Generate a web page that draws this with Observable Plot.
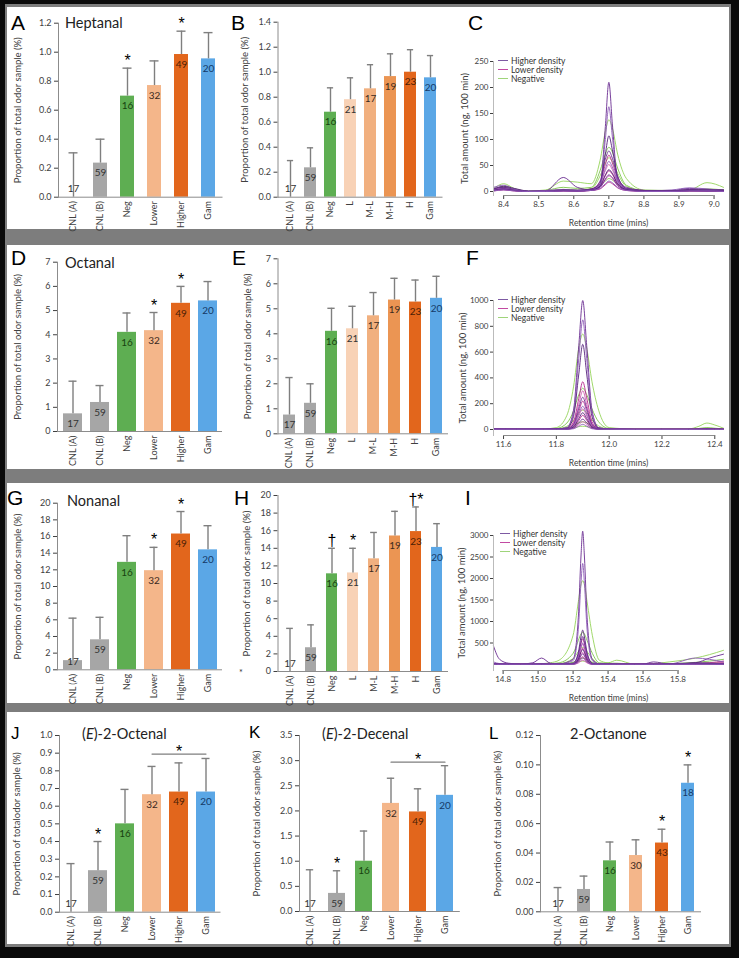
<!DOCTYPE html>
<html><head><meta charset="utf-8">
<script src="https://cdn.jsdelivr.net/npm/d3@7"></script>
<script src="https://cdn.jsdelivr.net/npm/@observablehq/plot@0.6"></script>
<style>
html,body{margin:0;padding:0;background:#000;}
#fig{position:relative;width:739px;height:958px;background:#0a0a0a;overflow:hidden;font-family:Lato,sans-serif;}
#gray{position:absolute;left:5px;top:4px;width:726px;height:943px;background:#7d7d7d;}
.row{position:absolute;left:2px;width:722px;background:#fff;}
.panel{position:absolute;}
.panel svg{overflow:visible;display:block;}
.letter{position:absolute;font-family:"Liberation Sans",Arial,sans-serif;line-height:1;color:#000;}
.title{position:absolute;font-family:Lato,sans-serif;font-size:14.5px;line-height:1;color:#222;white-space:nowrap;}
.legend{position:absolute;font-family:Lato,sans-serif;font-size:8.5px;color:#333;}
.legend div{display:flex;align-items:center;height:9px;white-space:nowrap;}
.legend .sw{display:inline-block;width:10px;height:1px;margin-right:3px;}
.stray{position:absolute;font-family:Lato,sans-serif;font-size:9px;line-height:1;color:#333;}
</style></head>
<body>
<div id="fig"><div id="gray">
<div class="row" style="top:3px;height:222px"></div>
<div class="row" style="top:241px;height:224px"></div>
<div class="row" style="top:479px;height:220px"></div>
<div class="row" style="top:708px;height:232px"></div>
</div></div>
<script>
// ---------------- DATA ----------------
const catsSix = ["CNL (A)", "CNL (B)", "Neg", "Lower", "Higher", "Gam"];
const catsEight = ["CNL (A)", "CNL (B)", "Neg", "L", "M-L", "M-H", "H", "Gam"];
const nSix = [17, 59, 16, 32, 49, 20];
const nEight = [17, 59, 16, 21, 17, 19, 23, 20];
const nOctanone = [17, 59, 16, 30, 43, 18];

const heptanalMean = [0, 0.235, 0.697, 0.77, 0.984, 0.954];
const heptanalUpper = [0.306, 0.40, 0.89, 0.94, 1.145, 1.135];
const heptanalSig = ["", "", "*", "", "*", ""];
const heptanal8Mean = [0, 0.235, 0.68, 0.78, 0.867, 0.965, 1.0, 0.955];
const heptanal8Upper = [0.293, 0.395, 0.875, 0.955, 1.06, 1.147, 1.18, 1.133];

const octanalMean = [0.73, 1.2, 4.1, 4.17, 5.3, 5.4];
const octanalUpper = [2.08, 1.9, 4.9, 4.92, 6.0, 6.2];
const octanalSig = ["", "", "", "*", "*", ""];
const octanal8Mean = [0.75, 1.22, 4.1, 4.2, 4.72, 5.35, 5.27, 5.42];
const octanal8Upper = [2.25, 2.0, 5.02, 5.1, 5.65, 6.22, 6.15, 6.3];

const nonanalMean = [1.1, 3.6, 12.9, 11.9, 16.3, 14.4];
const nonanalUpper = [6.2, 6.3, 16.1, 14.7, 19.0, 17.3];
const nonanalSig = ["", "", "", "*", "*", ""];
const nonanal8Mean = [0, 2.7, 11.1, 11.2, 12.8, 15.4, 15.9, 14.1];
const nonanal8Upper = [4.9, 5.3, 14.0, 14.0, 15.8, 18.2, 18.7, 16.8];
const nonanal8Sig = ["", "", "†", "*", "", "", "†*", ""];

const octenalMean = [0, 0.235, 0.5, 0.665, 0.68, 0.68];
const octenalUpper = [0.275, 0.40, 0.695, 0.825, 0.845, 0.87];
const octenalSig = ["", "*", "", "", "", ""];
const octenalGroupSig = {from: "Lower", to: "Gam", level: 0.895, at: "Higher", mark: "*"};

const decenalMean = [0, 0.36, 1.0, 2.15, 1.98, 2.31];
const decenalUpper = [0.83, 0.81, 1.6, 2.65, 2.44, 2.9];
const decenalSig = ["", "*", "", "", "", ""];
const decenalGroupSig = {from: "Lower", to: "Gam", level: 2.97, at: "Higher", mark: "*"};

const octanoneMean = [0, 0.0152, 0.0347, 0.0383, 0.0468, 0.0875];
const octanoneUpper = [0.0165, 0.0243, 0.0475, 0.049, 0.0562, 0.100];
const octanoneSig = ["", "", "", "", "*", "*"];

const ticksHeptanal = [0, 0.2, 0.4, 0.6, 0.8, 1.0, 1.2];
const ticksHeptanal8 = [0, 0.2, 0.4, 0.6, 0.8, 1.0, 1.2, 1.4];
const ticksOctanal = [0, 1, 2, 3, 4, 5, 6, 7];
const ticksNonanal = [0, 2, 4, 6, 8, 10, 12, 14, 16, 18, 20];
const ticksOctenal = [0, 0.1, 0.2, 0.3, 0.4, 0.5, 0.6, 0.7, 0.8, 0.9, 1.0];
const ticksDecenal = [0, 0.5, 1.0, 1.5, 2.0, 2.5, 3.0, 3.5];
const ticksOctanone = [0, 0.02, 0.04, 0.06, 0.08, 0.10, 0.12];

// Chromatograms (retention time in mins, amount in ng per 100 min)
const timesHeptanal = [8.371, 8.40, 8.43, 8.47, 8.52, 8.57, 8.61, 8.65, 8.675, 8.69, 8.70, 8.71, 8.725, 8.75, 8.80, 8.88, 8.93, 8.98, 9.027];
const heptanalHigher = [
  [5,8,4,0,1,27,8,3,10,125,210,130,22,5,2,2,6,4,3],
  [8,12,5,1,2,4,3,4,12,100,163,105,20,4,1,3,7,5,2],
  [4,10,6,1,1,3,2,5,15,72,107,80,30,6,2,1,4,3,3],
  [6,8,3,0,1,2,2,4,20,62,78,64,28,8,2,1,3,2,2],
  [3,6,3,0,1,2,1,3,14,44,58,47,20,5,1,1,2,2,1],
  [2,5,2,0,0,2,1,3,10,32,42,35,15,4,1,1,2,1,1],
  [2,4,2,0,0,1,1,2,8,24,32,27,12,3,1,0,1,1,1],
  [1,3,1,0,0,1,1,2,6,15,20,17,8,2,0,0,1,1,0]
];
const heptanalLower = [
  [3,7,3,0,1,3,2,5,18,52,70,55,25,6,2,1,3,2,2],
  [4,6,3,0,1,2,1,4,14,40,52,42,18,5,1,1,2,2,1],
  [2,5,2,0,0,2,1,3,10,30,40,33,14,4,1,1,2,1,1],
  [2,4,2,0,0,1,1,2,8,22,30,25,11,3,1,0,1,1,1],
  [1,3,1,0,0,1,1,2,5,13,18,15,7,2,0,0,1,1,0]
];
const heptanalNegative = [
  [5,15,6,1,3,20,18,15,60,115,138,122,72,25,3,2,3,17,8],
  [3,10,4,0,2,8,6,8,40,72,85,76,45,12,2,1,2,5,3],
  [3,8,3,0,1,4,3,6,30,55,65,58,35,10,1,1,2,3,2],
  [2,5,2,0,1,3,2,4,12,20,25,22,14,5,1,0,1,2,1]
];
const ticksTimeHeptanal = [8.4, 8.5, 8.6, 8.7, 8.8, 8.9, 9.0];
const ticksAmountHeptanal = [0, 50, 100, 150, 200, 250];

const timesOctanal = [11.562, 11.65, 11.75, 11.80, 11.84, 11.865, 11.885, 11.90, 11.915, 11.935, 11.96, 12.0, 12.1, 12.2, 12.3, 12.34, 12.37, 12.40, 12.433];
const octanalHigher = [
  [5,3,3,5,15,150,650,1000,650,150,15,4,2,2,2,3,5,3,2],
  [4,3,3,4,12,130,550,850,550,130,12,4,2,2,2,2,4,2,2],
  [3,2,2,4,10,100,430,660,430,100,10,3,2,2,2,2,3,2,2],
  [2,2,2,3,6,40,165,250,165,40,6,2,1,1,1,1,2,1,1],
  [2,2,2,2,5,30,120,180,120,30,5,2,1,1,1,1,1,1,1],
  [1,1,1,2,4,20,85,130,85,20,4,1,1,1,1,1,1,1,1],
  [1,1,1,1,3,12,52,80,52,12,3,1,0,0,0,1,1,1,0],
  [1,1,1,1,2,6,26,40,26,6,2,1,0,0,0,0,1,0,0]
];
const octanalLower = [
  [3,2,2,4,10,60,240,370,245,60,8,3,2,2,2,2,3,2,2],
  [2,2,2,3,8,48,195,300,195,48,7,2,1,1,1,2,2,1,1],
  [2,2,2,3,6,35,140,220,145,36,5,2,1,1,1,1,2,1,1],
  [1,1,1,2,4,25,105,160,105,26,4,1,1,1,1,1,1,1,1],
  [1,1,1,2,3,18,70,110,72,18,3,1,0,0,0,1,1,1,0],
  [1,1,1,1,2,10,38,60,40,10,2,1,0,0,0,0,1,0,0]
];
const octanalNegative = [
  [3,3,4,15,110,330,630,740,630,370,150,15,3,3,4,25,50,35,10],
  [2,2,3,8,50,145,270,320,270,160,60,8,2,2,2,8,15,10,4],
  [2,2,2,5,25,70,130,150,130,75,28,4,1,1,1,4,8,5,2],
  [1,1,1,3,10,28,52,60,52,30,12,2,1,1,1,2,4,3,1],
  [1,1,1,2,5,12,22,25,22,12,5,1,0,0,0,1,2,1,1]
];
const ticksTimeOctanal = [11.6, 11.8, 12.0, 12.2, 12.4];
const ticksAmountOctanal = [0, 200, 400, 600, 800, 1000];

const timesNonanal = [14.745, 14.78, 14.83, 14.9, 14.97, 15.02, 15.07, 15.12, 15.20, 15.23, 15.245, 15.255, 15.265, 15.28, 15.31, 15.35, 15.40, 15.45, 15.55, 15.6, 15.66, 15.75, 15.9, 15.98, 16.06];
const nonanalHigher = [
  [430,120,30,10,40,150,30,15,120,1100,2500,3100,2500,1100,120,15,10,5,10,10,60,10,40,150,240],
  [60,20,10,5,10,20,10,10,90,820,1880,2350,1880,820,90,10,5,5,5,5,5,10,150,120,60],
  [20,10,5,5,5,10,5,5,32,280,640,800,640,280,32,5,5,5,5,5,5,10,40,30,20],
  [15,10,5,5,5,5,5,5,26,228,520,650,520,228,26,5,5,5,5,5,5,5,30,25,15],
  [10,5,5,5,5,5,5,5,20,175,400,500,400,175,20,5,5,5,5,5,5,5,20,20,10],
  [10,5,5,5,5,5,5,5,14,122,280,350,280,122,14,5,5,5,5,5,5,5,15,15,10],
  [5,5,5,5,5,5,5,5,10,88,200,250,200,88,10,5,5,5,5,5,5,5,10,10,5],
  [5,5,5,5,5,5,5,5,6,52,120,150,120,52,6,5,5,5,5,5,5,5,5,5,5]
];
const nonanalLower = [
  [10,5,5,5,5,5,5,5,24,210,480,600,480,210,24,5,5,5,5,5,5,5,20,40,80],
  [10,5,5,5,5,5,5,5,19,168,385,480,385,168,19,5,5,5,5,5,5,5,15,30,50],
  [5,5,5,5,5,5,5,5,15,133,305,380,305,133,15,5,5,5,5,5,5,5,10,20,30],
  [5,5,5,5,5,5,5,5,11,98,225,280,225,98,11,5,5,5,5,5,5,5,10,15,20],
  [5,5,5,5,5,5,5,5,7,63,145,180,145,63,7,5,5,5,5,5,5,5,5,10,10],
  [5,5,5,5,5,5,5,5,4,35,80,100,80,35,4,5,5,5,5,5,5,5,5,5,5]
];
const nonanalNegative = [
  [5,5,5,5,10,20,40,100,680,1460,1850,1950,1850,1460,680,100,40,100,10,10,20,60,150,230,330],
  [5,5,5,5,5,10,20,40,260,560,710,750,710,560,260,40,30,30,5,5,10,20,50,80,120],
  [5,5,5,5,5,5,10,20,140,300,380,400,380,300,140,20,15,10,5,5,5,10,25,40,60],
  [5,5,5,5,5,5,5,10,52,112,142,150,142,112,52,10,8,5,5,5,5,5,10,15,20],
  [5,5,5,5,5,5,5,5,28,60,76,80,76,60,28,5,5,5,5,5,5,5,5,8,10]
];
const ticksTimeNonanal = [14.8, 15.0, 15.2, 15.4, 15.6, 15.8];
const ticksAmountNonanal = [500, 1000, 1500, 2000, 2500, 3000];

const legendLabels = ["Higher density", "Lower density", "Negative"];

// ---------------- STYLE / LAYOUT ----------------
const FONT = "Lato, 'Open Sans', sans-serif";
const SIGFONT = "'Liberation Sans', Arial, sans-serif";
const sixColors = ["#a6a6a6","#a6a6a6","#5eae52","#f4b68a","#e2661c","#5ba7e6"];
const sixLabel = ["#333","#333","#17420f","#3b2a1e","#4a1e05","#153a66"];
const eightColors = ["#a6a6a6","#a6a6a6","#5eae52","#f8d2b6","#f1b07f","#eb9553","#e2661c","#5ba7e6"];
const eightLabel = ["#333","#333","#17420f","#333","#3b2a1e","#3b2a1e","#4a1e05","#153a66"];
const traceColors = {higher: ["#6a2c91","#8d5bb8","#56237a"], lower: ["#b5288c","#d05cb2"], neg: ["#95d45a","#7cc44c"]};
const legendColors = ["#7d5aa3", "#c24aa2", "#9fd47a"];
const ERR = "#7f7f7f", AXIS = "#8c8c8c";
const YLAB = "Proportion of total odor sample (%)";

const fig = document.getElementById("fig");

function margins(box, fr) {
  return {marginLeft: fr.x0 - box.left, marginRight: box.left + box.w - fr.x1,
          marginTop: fr.y0 - box.top, marginBottom: box.top + box.h - fr.y1};
}
function place(svg, box) {
  const d = document.createElement("div");
  d.className = "panel";
  d.style.left = box.left + "px"; d.style.top = box.top + "px";
  d.appendChild(svg); fig.appendChild(d);
}
function setSize(svg, sel, size) {
  svg.querySelectorAll(`[aria-label="${sel}"]`).forEach(g => g.style.fontSize = size);
}

function barPanel(p) {
  const rows = p.cats.map((c, i) => ({cat: c, v: p.mean[i], up: p.upper[i], n: p.n[i],
    sig: p.sig ? p.sig[i] : "", fill: p.colors[i], lab: p.labels[i]}));
  const m = margins(p.box, p.frame);
  const pxPerUnit = (p.frame.y1 - p.frame.y0) / p.ticks[p.ticks.length - 1];
  const xr = (p.xRange || [p.frame.x0, p.frame.x1]).map(v => v - p.box.left);
  const step = (xr[1] - xr[0]) / p.cats.length;
  const bw = step * (1 - p.pad);
  const capInset = Math.max(0, (bw - p.cap) / 2);
  const tall = rows.filter(d => d.v * pxPerUnit >= 18);
  const short = rows.filter(d => d.v * pxPerUnit < 18);
  const marks = [
    Plot.barY(rows, {x: "cat", y: "v", fill: "fill"}),
    Plot.ruleX(rows, {x: "cat", y1: "v", y2: "up", stroke: ERR, strokeWidth: 1.4}),
    Plot.tickY(rows, {x: "cat", y: "up", stroke: ERR, strokeWidth: 1.4, insetLeft: capInset, insetRight: capInset}),
    Plot.text(tall, {x: "cat", y: "v", text: "n", fill: "lab", dy: 10, fontSize: 10}),
    Plot.text(short, {x: "cat", y: () => 0, text: "n", fill: "lab", dy: -8, fontSize: 10}),
    Plot.text(rows.filter(d => d.sig), {x: "cat", y: "up", text: "sig", fill: "black", dy: -7, fontSize: 16, fontFamily: SIGFONT, lineAnchor: "middle"}),
    Plot.ruleY([0], {stroke: AXIS}),
    Plot.frame({anchor: "left", stroke: AXIS})
  ];
  if (p.group) {
    const g = p.group;
    marks.push(Plot.line([{cat: g.from, y: g.level}, {cat: g.to, y: g.level}], {x: "cat", y: "y", stroke: ERR, strokeWidth: 1.2}));
    marks.push(Plot.text([{cat: g.at, y: g.level, t: g.mark}], {x: "cat", y: "y", text: "t", fill: "black", dy: -2, fontSize: 16, fontFamily: SIGFONT, lineAnchor: "middle"}));
  }
  const svg = Plot.plot({
    width: p.box.w, height: p.box.h, ...m,
    style: {fontFamily: FONT, fontSize: "9px", color: "#404040", background: "transparent", overflow: "visible"},
    x: {domain: p.cats, range: xr, paddingInner: p.pad, paddingOuter: p.pad / 2, tickRotate: -90, tickSize: 0, tickPadding: 4, label: null},
    y: {domain: [0, p.ticks[p.ticks.length - 1]], ticks: p.ticks, tickFormat: p.fmt, tickSize: 4, tickPadding: 3,
        label: p.ylabel || YLAB, labelAnchor: "center", labelOffset: p.labelOffset, labelArrow: "none"},
    color: {type: "identity"},
    marks
  });
  setSize(svg, "y-axis label", "9.5px");
  place(svg, p.box);
}

function chromPanel(p) {
  const rows = [];
  const groups = [["neg", p.neg], ["lower", p.lower], ["higher", p.higher]];
  for (const [name, traces] of groups)
    traces.forEach((tr, k) => tr.forEach((v, i) => rows.push({t: p.times[i], v, id: name + k, c: traceColors[name][k % traceColors[name].length]})));
  const m = margins(p.box, p.frame);
  const xt = p.xTicks;
  const svg = Plot.plot({
    width: p.box.w, height: p.box.h, ...m,
    style: {fontFamily: FONT, fontSize: "8px", color: "#404040", background: "transparent", overflow: "visible"},
    x: {domain: p.xDomain, ticks: xt, tickFormat: ".1f", tickSize: 4, tickPadding: 2,
        label: "Retention time (mins)", labelAnchor: "center", labelOffset: 30, labelArrow: "none"},
    y: {domain: p.yDomain, ticks: p.yTicks, tickFormat: "d", tickSize: 3, tickPadding: 2, insetBottom: p.inset,
        label: "Total amount (ng, 100 min)", labelAnchor: "center", labelOffset: p.labelOffset, labelArrow: "none"},
    color: {type: "identity"},
    marks: [
      Plot.line(rows, {x: "t", y: "v", z: "id", stroke: "c", strokeWidth: 0.9, curve: "monotone-x"}),
      Plot.ruleY([0], {x1: xt[0], x2: xt[xt.length - 1], dy: p.inset, stroke: AXIS}),
      Plot.frame({anchor: "left", stroke: "#bbb"})
    ]
  });
  setSize(svg, "y-axis label", "9.5px");
  setSize(svg, "x-axis label", "8.5px");
  place(svg, p.box);
  const lg = document.createElement("div");
  lg.className = "legend";
  lg.style.left = p.legend.left + "px"; lg.style.top = p.legend.top + "px";
  legendLabels.forEach((t, i) => {
    const r = document.createElement("div");
    const sw = document.createElement("span"); sw.className = "sw"; sw.style.background = legendColors[i];
    r.appendChild(sw); r.appendChild(document.createTextNode(t)); lg.appendChild(r);
  });
  fig.appendChild(lg);
}

function addText(cls, html, left, top, size) {
  const d = document.createElement("div");
  d.className = cls; d.innerHTML = html;
  d.style.left = left + "px"; d.style.top = top + "px";
  if (size) d.style.fontSize = size + "px";
  fig.appendChild(d);
}

// Row 1
barPanel({box: {left: 7, top: 7, w: 233, h: 222}, frame: {x0: 58, x1: 222.5, y0: 22.7, y1: 196.7}, pad: 0.49, cap: 9,
  cats: catsSix, mean: heptanalMean, upper: heptanalUpper, n: nSix, sig: heptanalSig, colors: sixColors, labels: sixLabel,
  ticks: ticksHeptanal, fmt: ".1f", labelOffset: 44});
barPanel({box: {left: 240, top: 7, w: 220, h: 222}, frame: {x0: 277.5, x1: 442.5, y0: 21.7, y1: 196.7}, pad: 0.38, cap: 7,
  cats: catsEight, mean: heptanal8Mean, upper: heptanal8Upper, n: nEight, colors: eightColors, labels: eightLabel,
  ticks: ticksHeptanal8, fmt: ".1f", labelOffset: 37});
chromPanel({box: {left: 460, top: 7, w: 269, h: 222}, frame: {x0: 493, x1: 723, y0: 61, y1: 195}, inset: 4,
  times: timesHeptanal, higher: heptanalHigher, lower: heptanalLower, neg: heptanalNegative,
  xDomain: [8.371, 9.027], yDomain: [0, 250], xTicks: ticksTimeHeptanal, yTicks: ticksAmountHeptanal,
  labelOffset: 32, legend: {left: 498, top: 56}});

// Row 2
barPanel({box: {left: 7, top: 245, w: 233, h: 224}, frame: {x0: 57, x1: 222, y0: 261.7, y1: 431}, pad: 0.31, cap: 8,
  cats: catsSix, mean: octanalMean, upper: octanalUpper, n: nSix, sig: octanalSig, colors: sixColors, labels: sixLabel,
  ticks: ticksOctanal, fmt: "d", labelOffset: 43});
barPanel({box: {left: 240, top: 245, w: 220, h: 224}, frame: {x0: 277.5, x1: 448, y0: 258.3, y1: 433.3}, pad: 0.45, cap: 7,
  cats: catsEight, mean: octanal8Mean, upper: octanal8Upper, n: nEight, colors: eightColors, labels: eightLabel,
  ticks: ticksOctanal, fmt: "d", labelOffset: 34});
chromPanel({box: {left: 460, top: 245, w: 269, h: 224}, frame: {x0: 493, x1: 723, y0: 300, y1: 435}, inset: 6,
  times: timesOctanal, higher: octanalHigher, lower: octanalLower, neg: octanalNegative,
  xDomain: [11.562, 12.433], yDomain: [0, 1000], xTicks: ticksTimeOctanal, yTicks: ticksAmountOctanal,
  labelOffset: 34, legend: {left: 498, top: 295}});

// Row 3
barPanel({box: {left: 7, top: 483, w: 233, h: 220}, frame: {x0: 57, x1: 222, y0: 502.7, y1: 669.3}, pad: 0.31, cap: 8,
  cats: catsSix, mean: nonanalMean, upper: nonanalUpper, n: nSix, sig: nonanalSig, colors: sixColors, labels: sixLabel,
  ticks: ticksNonanal, fmt: "d", labelOffset: 43});
barPanel({box: {left: 240, top: 483, w: 220, h: 220}, frame: {x0: 277.5, x1: 448, y0: 495, y1: 671}, pad: 0.47, cap: 7,
  cats: catsEight, mean: nonanal8Mean, upper: nonanal8Upper, n: nEight, sig: nonanal8Sig, colors: eightColors, labels: eightLabel,
  ticks: ticksNonanal, fmt: "d", labelOffset: 35});
chromPanel({box: {left: 460, top: 483, w: 269, h: 220}, frame: {x0: 493, x1: 723, y0: 535, y1: 670}, inset: 6,
  times: timesNonanal, higher: nonanalHigher, lower: nonanalLower, neg: nonanalNegative,
  xDomain: [14.745, 16.06], yDomain: [0, 3000], xTicks: ticksTimeNonanal, yTicks: ticksAmountNonanal,
  labelOffset: 35, legend: {left: 500, top: 529}});

// Row 4
barPanel({box: {left: 7, top: 712, w: 233, h: 232}, frame: {x0: 59, x1: 220.5, y0: 735, y1: 911.7}, xRange: [55.5, 220.5], pad: 0.31, cap: 8,
  cats: catsSix, mean: octenalMean, upper: octenalUpper, n: nSix, sig: octenalSig, colors: sixColors, labels: sixLabel,
  ticks: ticksOctenal, fmt: ".1f", labelOffset: 46, group: octenalGroupSig, ylabel: "Proportion of totalodor sample (%)"});
barPanel({box: {left: 240, top: 712, w: 240, h: 232}, frame: {x0: 299, x1: 459.8, y0: 735, y1: 911}, xRange: [294.2, 459.8], pad: 0.36, cap: 8,
  cats: catsSix, mean: decenalMean, upper: decenalUpper, n: nSix, sig: decenalSig, colors: sixColors, labels: sixLabel,
  ticks: ticksDecenal, fmt: ".1f", labelOffset: 46, group: decenalGroupSig});
barPanel({box: {left: 480, top: 712, w: 249, h: 232}, frame: {x0: 540, x1: 701, y0: 735, y1: 911.3}, xRange: [543, 701], pad: 0.5, cap: 8,
  cats: catsSix, mean: octanoneMean, upper: octanoneUpper, n: nOctanone, sig: octanoneSig, colors: sixColors, labels: sixLabel,
  ticks: ticksOctanone, fmt: ".2f", labelOffset: 46});

// Panel letters
[["A", 11, 12], ["B", 231, 12], ["C", 468, 12], ["D", 11, 247], ["E", 232, 247], ["F", 466, 247],
 ["G", 7, 487], ["H", 234, 487], ["I", 465, 487]].forEach(([t, l, tp]) => addText("letter", t, l, tp, 21));
[["J", 11, 725], ["K", 249, 724], ["L", 489, 725]].forEach(([t, l, tp]) => addText("letter", t, l, tp, 17));

// Titles
addText("title", "Heptanal", 65, 16);
addText("title", "Octanal", 65, 256);
addText("title", "Nonanal", 67, 494);
addText("title", "(<i>E</i>)-2-Octenal", 82, 727);
addText("title", "(<i>E</i>)-2-Decenal", 322, 727);
addText("title", "2-Octanone", 570, 727);
addText("stray", "*", 239, 668);
</script>
</body></html>
